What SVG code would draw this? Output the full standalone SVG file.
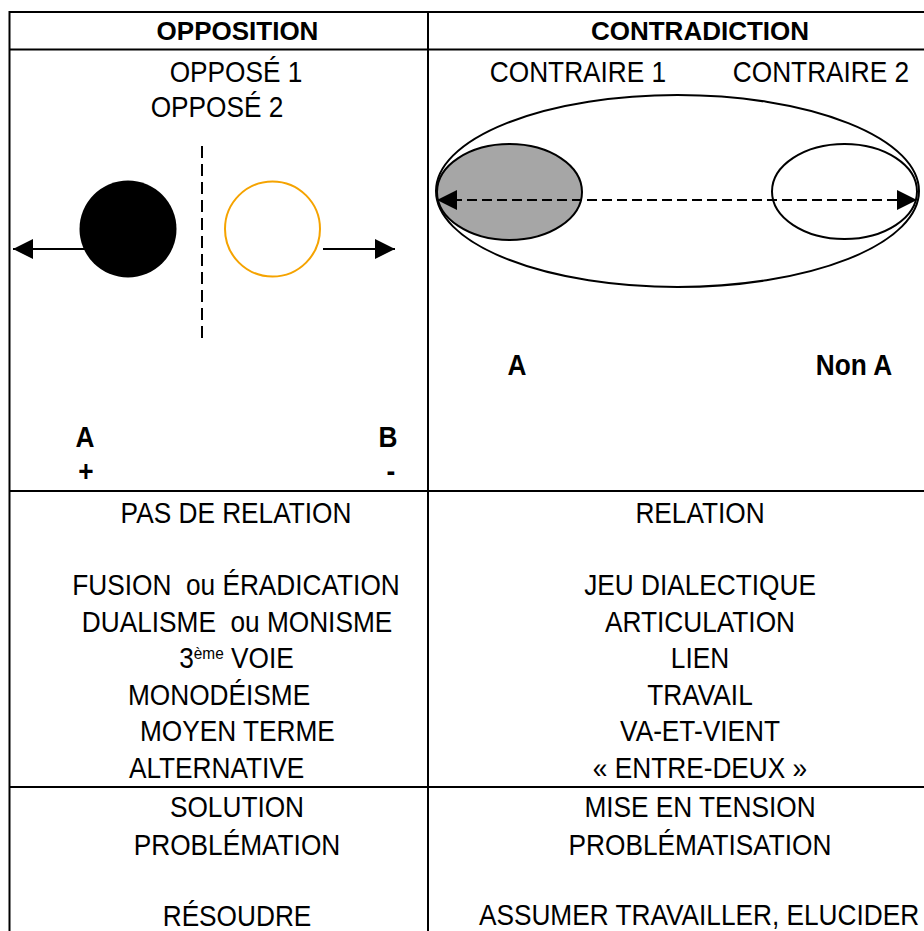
<svg xmlns="http://www.w3.org/2000/svg" width="924" height="931" viewBox="0 0 924 931">
<style>
.grid{stroke:#000;stroke-width:2;fill:none}
.h{font-family:"Liberation Sans",Arial,sans-serif;font-weight:bold;font-size:26px;fill:#000;text-anchor:middle}
.t{font-family:"Liberation Sans",Arial,sans-serif;font-size:29px;fill:#000;text-anchor:middle}
.s{text-anchor:start}
.b{font-weight:bold}
.sup{font-size:17px}
.ln{stroke:#000;stroke-width:2;fill:none}
.dash{stroke-dasharray:10 5}
</style>
<defs>
<marker id="ah" viewBox="0 0 20 20" refX="20" refY="10" markerWidth="20" markerHeight="20" markerUnits="userSpaceOnUse" orient="auto-start-reverse">
<path d="M0,0 L20,10 L0,20 z" fill="#000"/>
</marker>
</defs>
<rect width="924" height="931" fill="#fff"/>
<g id="table" class="grid">
<line x1="9" y1="12" x2="924" y2="12"/>
<line x1="9" y1="49.5" x2="924" y2="49.5"/>
<line x1="9" y1="491" x2="924" y2="491"/>
<line x1="9" y1="787" x2="924" y2="787"/>
<line x1="9.5" y1="11" x2="9.5" y2="931"/>
<line x1="428" y1="11" x2="428" y2="931"/>
</g>
<g id="headers">
<text class="h" x="237.5" y="40">OPPOSITION</text>
<text class="h" x="700" y="40">CONTRADICTION</text>
</g>
<g id="opposition-diagram">
<line id="separator" x1="202" y1="146" x2="202" y2="338" stroke="#000" stroke-width="2" stroke-dasharray="12 6"/>
<circle id="A-circle" cx="128" cy="229" r="48.5" fill="#000"/>
<circle id="B-circle" cx="272.5" cy="229" r="47.5" fill="#fff" stroke="#F5A300" stroke-width="2"/>
</g>
<g id="contradiction-diagram">
<ellipse id="whole" cx="677.5" cy="191" rx="241.5" ry="96" fill="none" stroke="#000" stroke-width="2"/>
<ellipse id="contraire1" cx="509.5" cy="192" rx="72.5" ry="48" fill="#A6A6A6" stroke="#000" stroke-width="2"/>
<ellipse id="contraire2" cx="844.5" cy="191.5" rx="72.5" ry="47.5" fill="none" stroke="#000" stroke-width="2"/>
</g>
<g id="connectors">
<line class="ln" x1="85" y1="249" x2="13" y2="249" marker-end="url(#ah)"/>
<line class="ln" x1="323" y1="249" x2="395" y2="249" marker-end="url(#ah)"/>
<line class="ln dash" x1="437" y1="200" x2="917" y2="200" marker-start="url(#ah)" marker-end="url(#ah)"/>
</g>
<g id="labels" transform="scale(0.905 1)">
<text class="t" x="260.8" y="82">OPPOSÉ 1</text>
<text class="t" x="239.8" y="117">OPPOSÉ 2</text>
<text class="t" x="638.7" y="82">CONTRAIRE 1</text>
<text class="t" x="907.2" y="82">CONTRAIRE 2</text>
<text class="t b" x="93.9" y="447">A</text>
<text class="t b" x="95" y="481">+</text>
<text class="t b" x="428.7" y="447">B</text>
<text class="t b" x="432" y="481">-</text>
<text class="t b" x="571.3" y="375">A</text>
<text class="t b" x="943.6" y="375">Non A</text>
</g>
<g id="row-relation" transform="scale(0.905 1)">
<text class="t" x="260.8" y="523">PAS DE RELATION</text>
<text class="t" x="260.8" y="595" xml:space="preserve">FUSION  ou ÉRADICATION</text>
<text class="t" x="261.9" y="632" xml:space="preserve">DUALISME  ou MONISME</text>
<text class="t" x="261.3" y="668">3<tspan class="sup" dy="-9">ème</tspan><tspan dy="9"> VOIE</tspan></text>
<text class="t s" x="141.4" y="705">MONODÉISME</text>
<text class="t s" x="154.7" y="741.5">MOYEN TERME</text>
<text class="t s" x="142.5" y="778">ALTERNATIVE</text>
<text class="t" x="773.5" y="523">RELATION</text>
<text class="t" x="773.5" y="595">JEU DIALECTIQUE</text>
<text class="t" x="773.5" y="632">ARTICULATION</text>
<text class="t" x="773.5" y="668">LIEN</text>
<text class="t" x="773.5" y="705">TRAVAIL</text>
<text class="t" x="773.5" y="741.5">VA-ET-VIENT</text>
<text class="t" x="773.5" y="778">« ENTRE-DEUX »</text>
</g>
<g id="row-resolution" transform="scale(0.905 1)">
<text class="t" x="261.9" y="817">SOLUTION</text>
<text class="t" x="261.9" y="855">PROBLÉMATION</text>
<text class="t" x="261.9" y="926">RÉSOUDRE</text>
<text class="t" x="773.5" y="817">MISE EN TENSION</text>
<text class="t" x="773.5" y="855">PROBLÉMATISATION</text>
<text class="t" x="772.4" y="925">ASSUMER TRAVAILLER, ELUCIDER</text>
</g>
</svg>
